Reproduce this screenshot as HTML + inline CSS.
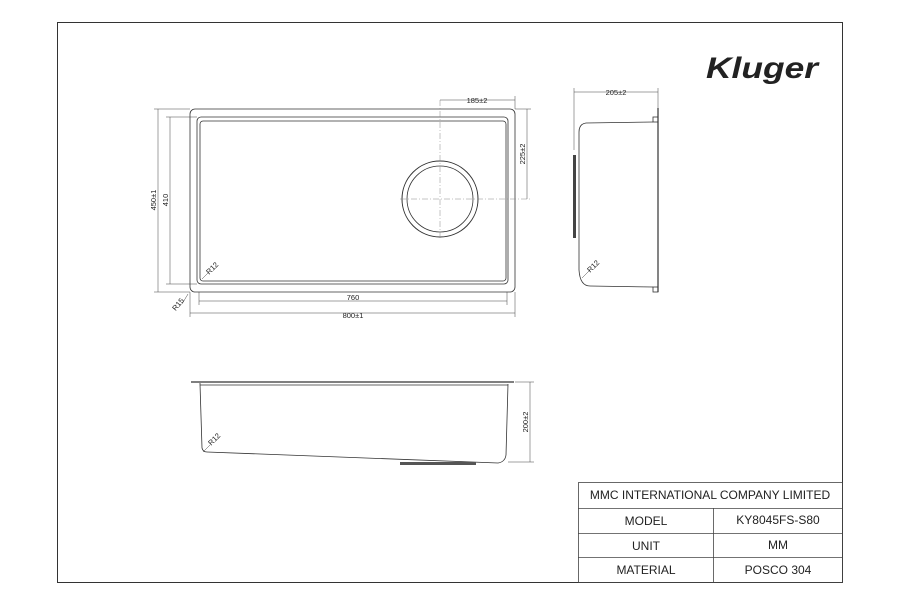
<!DOCTYPE html>
<html><head><style>
body{margin:0;background:#fff;}
svg{display:block;}
text{font-family:"Liberation Sans",sans-serif;fill:#222;}
</style></head><body>
<svg width="900" height="600" viewBox="0 0 900 600">
<rect x="0" y="0" width="900" height="600" fill="#fff"/>
<rect x="57.5" y="22.5" width="785" height="560" fill="none" stroke="#333" stroke-width="1"/>
<text x="706" y="78" font-size="30" font-weight="bold" font-style="italic" fill="#111" textLength="112" lengthAdjust="spacingAndGlyphs">Kluger</text>

<g fill="none" stroke="#333" stroke-width="0.8">
<rect x="190" y="109" width="325" height="183" rx="5"/>
<rect x="197" y="117" width="311" height="167" rx="4"/>
<rect x="200" y="121" width="306" height="160" rx="3"/>
<circle cx="440" cy="199" r="38" stroke-width="1"/>
<circle cx="440" cy="199" r="33"/>
</g>
<g stroke="#888" stroke-width="0.5" stroke-dasharray="6,2,1,2" fill="none">
<line x1="440" y1="100" x2="440" y2="240"/>
<line x1="400" y1="199" x2="530" y2="199"/>
</g>
<g stroke="#444" stroke-width="0.5" fill="none">
<line x1="158" y1="109" x2="158" y2="292"/><line x1="154" y1="109" x2="190" y2="109"/><line x1="154" y1="292" x2="190" y2="292"/>
<line x1="170" y1="117" x2="170" y2="284"/><line x1="166" y1="117" x2="197" y2="117"/><line x1="166" y1="284" x2="197" y2="284"/>
<line x1="199" y1="301" x2="507" y2="301"/><line x1="199" y1="292" x2="199" y2="305"/><line x1="507" y1="292" x2="507" y2="305"/>
<line x1="190" y1="313" x2="515" y2="313"/><line x1="190" y1="292" x2="190" y2="317"/><line x1="515" y1="292" x2="515" y2="317"/>
<line x1="440" y1="100" x2="515" y2="100"/><line x1="515" y1="96" x2="515" y2="109"/>
<line x1="527" y1="109" x2="527" y2="199"/><line x1="515" y1="109" x2="531" y2="109"/>
<line x1="188" y1="294" x2="182" y2="304"/>
<line x1="202" y1="279" x2="208" y2="273"/>
<line x1="574" y1="92" x2="658" y2="92"/><line x1="574" y1="88" x2="574" y2="150"/><line x1="658" y1="88" x2="658" y2="108"/>
<line x1="582" y1="278" x2="590" y2="270"/>
<line x1="530" y1="382" x2="530" y2="462"/><line x1="515" y1="382" x2="534" y2="382"/><line x1="508" y1="462" x2="534" y2="462"/>
<line x1="203" y1="452" x2="210" y2="445"/>
</g>
<g font-size="7.5" text-anchor="middle">
<text x="0" y="0" transform="translate(156,200) rotate(-90)">450±1</text>
<text x="0" y="0" transform="translate(168,200) rotate(-90)">410</text>
<text x="353" y="300">760</text>
<text x="353" y="318">800±1</text>
<text x="477" y="103">185±2</text>
<text x="0" y="0" transform="translate(525,154) rotate(-90)">225±2</text>
<text x="0" y="0" transform="translate(180,306) rotate(-50)">R15</text>
<text x="0" y="0" transform="translate(214,270) rotate(-45)">R12</text>
<text x="616" y="95">205±2</text>
<text x="0" y="0" transform="translate(595,268) rotate(-45)">R12</text>
<text x="0" y="0" transform="translate(528,422) rotate(-90)">200±2</text>
<text x="0" y="0" transform="translate(216,441) rotate(-45)">R12</text>
</g>

<g fill="none" stroke="#333" stroke-width="0.8">
<line x1="658" y1="108" x2="658" y2="292" stroke-width="1.2"/>
<path d="M653 122 L586 123 Q579 124 579 132 L579 270 Q580 286 590 286 L653 287"/>
<rect x="653" y="117" width="5" height="5"/>
<rect x="653" y="287" width="5" height="5"/>
</g>
<rect x="573" y="155" width="3" height="83" fill="#444"/>

<g fill="none" stroke="#333" stroke-width="0.8">
<line x1="191" y1="382" x2="514" y2="382" stroke-width="1.2"/>
<path d="M200 383 L200 384 L202 448 Q203 452 207 452 L498 463 Q505 462 506 455 L508 384"/>
<line x1="200" y1="385" x2="508" y2="385"/>
</g>
<rect x="400" y="462" width="76" height="3" fill="#555"/>

<g fill="none" stroke="#444" stroke-width="0.8">
<rect x="578.5" y="482.5" width="264" height="100"/>
<line x1="578" y1="508.5" x2="843" y2="508.5"/>
<line x1="578" y1="533.5" x2="843" y2="533.5"/>
<line x1="578" y1="557.5" x2="843" y2="557.5"/>
<line x1="713.5" y1="508" x2="713.5" y2="583"/>
</g>
<g font-size="12" text-anchor="middle">
<text x="710" y="499">MMC INTERNATIONAL COMPANY LIMITED</text>
<text x="646" y="525">MODEL</text>
<text x="778" y="524">KY8045FS-S80</text>
<text x="646" y="550">UNIT</text>
<text x="778" y="549">MM</text>
<text x="646" y="574">MATERIAL</text>
<text x="778" y="574">POSCO 304</text>
</g>
</svg>
</body></html>
